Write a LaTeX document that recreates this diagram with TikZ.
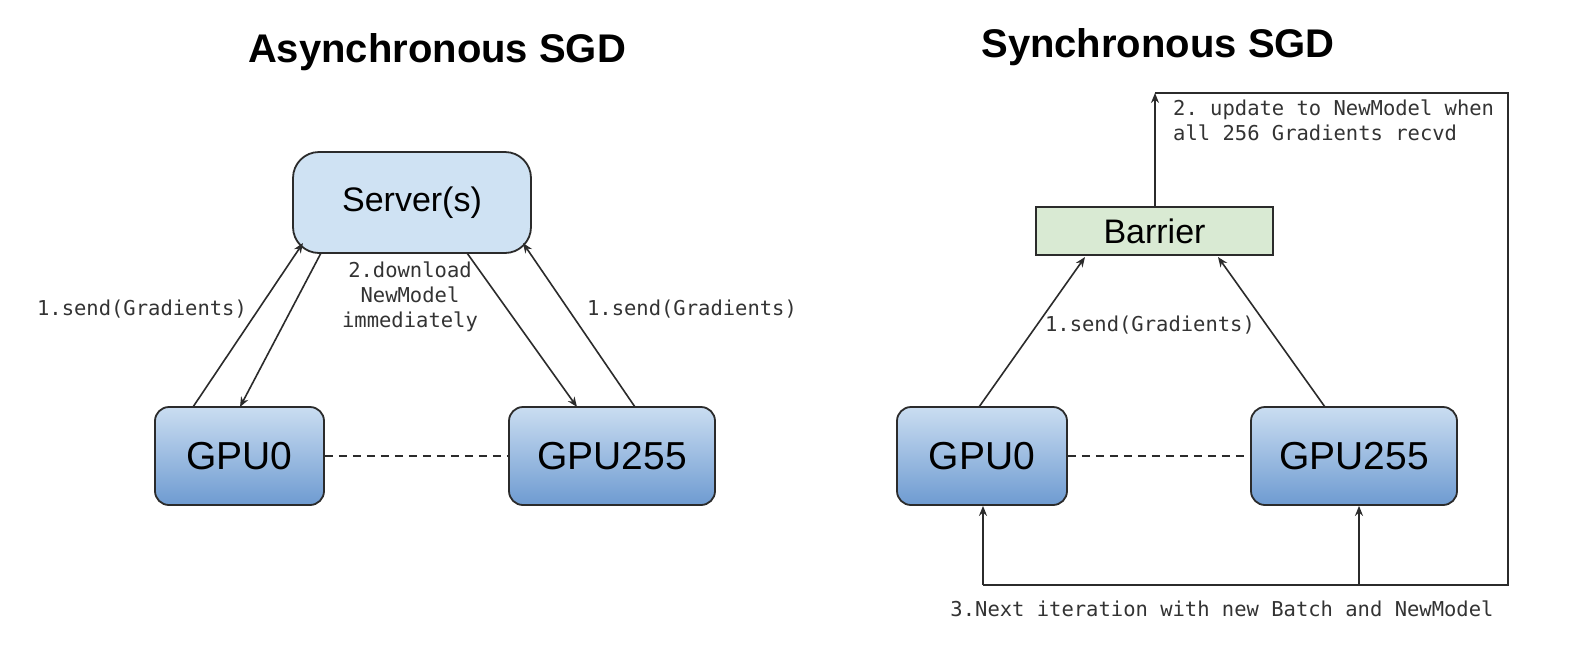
\documentclass[tikz,border=0pt]{standalone}
\usepackage{fontspec}
\setmainfont{Liberation Sans}
\setmonofont{DejaVu Sans Mono}
\usetikzlibrary{arrows.meta}
\definecolor{edgec}{HTML}{2B2B2B}
\definecolor{gputop}{HTML}{CADDF1}
\definecolor{gpubot}{HTML}{6E9BD1}
\definecolor{servfill}{HTML}{CFE2F3}
\definecolor{barfill}{HTML}{D9EAD3}
\tikzset{
  gpubox/.style={draw=edgec, line width=1.8pt, rounded corners=14pt, top color=gputop, bottom color=gpubot, inner sep=0pt, font=\fontsize{39}{44}\selectfont},
  servbox/.style={draw=edgec, line width=1.8pt, rounded corners=26pt, fill=servfill, inner sep=0pt, font=\fontsize{34}{40}\selectfont},
  barbox/.style={draw=edgec, line width=1.8pt, fill=barfill, inner sep=0pt, font=\fontsize{34}{40}\selectfont},
  conn/.style={draw=edgec, line width=1.6pt},
  arr/.style={conn, -{Stealth[length=10pt,width=8pt]}},
  lbl/.style={font=\ttfamily\fontsize{20.5}{25}\selectfont, text=black!80, inner sep=0pt},
  ttl/.style={font=\bfseries\fontsize{40}{46}\selectfont, inner sep=0pt},
  dsh/.style={conn, dash pattern=on 8pt off 6pt}
}
\begin{document}
\begin{tikzpicture}[x=1pt,y=-1pt]
\path[use as bounding box, fill=white] (0,0) rectangle (1572,654);

% ---------- Asynchronous ----------
\node[ttl] (t1) at (437,52) {Asynchronous SGD};
\node[servbox, minimum width=238pt, minimum height=101pt] (srv) at (412,202.5) {Server(s)};
\node[gpubox, minimum width=169pt, minimum height=98pt] (g0) at (239.5,456) {GPU0};
\node[gpubox, minimum width=206pt, minimum height=98pt] (g255) at (612,456) {GPU255};
\draw[dsh] (g0.east) -- (g255.west);

\coordinate (a1s) at (193,407);
\coordinate (a1e) at (303,243);
\draw[arr] (a1s) -- (a1e);
\coordinate (a2s) at (321,253);
\coordinate (a2e) at (240,407);
\draw[arr] (a2s) -- (a2e);
\coordinate (a3s) at (467,253);
\coordinate (a3e) at (577,407);
\draw[arr] (a3s) -- (a3e);
\coordinate (a4s) at (635,407);
\coordinate (a4e) at (523,243);
\draw[arr] (a4s) -- (a4e);

\node[lbl] (l1) at (142,309) {1.send(Gradients)};
\node[lbl, align=center, font=\ttfamily\fontsize{20.5}{25}\selectfont] (l2) at (410,297) {2.download\\NewModel\\immediately};
\node[lbl] (l3) at (692,309) {1.send(Gradients)};

% ---------- Synchronous ----------
\node[ttl] (t2) at (1158,47) {Synchronous SGD};
\node[barbox, minimum width=237pt, minimum height=48pt] (bar) at (1154.5,231) {Barrier};
\node[gpubox, minimum width=170pt, minimum height=98pt] (s0) at (982,456) {GPU0};
\node[gpubox, minimum width=206pt, minimum height=98pt] (s255) at (1354,456) {GPU255};
\draw[dsh] (s0.east) -- (s255.west);

\coordinate (b1s) at (979,407);
\coordinate (b1e) at (1085,257);
\draw[arr] (b1s) -- (b1e);
\coordinate (b2s) at (1325,407);
\coordinate (b2e) at (1218,257);
\draw[arr] (b2s) -- (b2e);
\node[lbl] (l4) at (1150,325) {1.send(Gradients)};

\coordinate (top) at (1155,93);
\coordinate (tr) at (1508,93);
\coordinate (br) at (1508,585);
\coordinate (bl) at (983,585);
\coordinate (bm) at (1359,585);
\draw[arr] (bar.north -| top) -- (top);
\draw[conn] (top) -- (tr) -- (br) -- (bl);
\draw[arr] (bl) -- (bl |- s0.south);
\draw[arr] (bm) -- (bm |- s255.south);

\node[lbl, anchor=north west, align=left] (l5) at (1173,100) {2. update to NewModel when\\all 256 Gradients recvd};
\node[lbl] (l6) at (1222,609) {3.Next iteration with new Batch and NewModel};
\end{tikzpicture}
\end{document}
